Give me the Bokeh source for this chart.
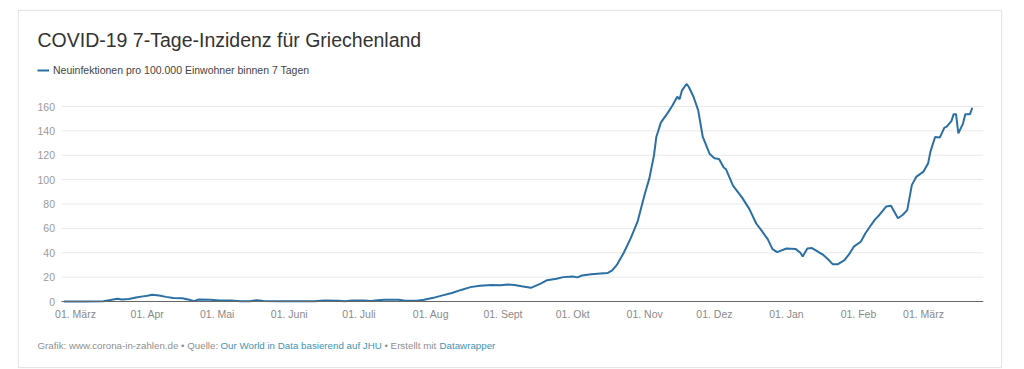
import pandas as pd
from bokeh.plotting import figure
from bokeh.models import (Range1d, FixedTicker, CustomJSTickFormatter, Legend,
                          LegendItem, Label)
from bokeh.embed import file_html
from bokeh.resources import INLINE

# ---------------- data ----------------
dates = [
    "2020-02-25", "2020-03-05", "2020-03-13", "2020-03-16", "2020-03-19", "2020-03-21",
    "2020-03-24", "2020-03-27", "2020-03-30", "2020-04-01", "2020-04-03", "2020-04-06",
    "2020-04-09", "2020-04-12", "2020-04-16", "2020-04-19", "2020-04-21", "2020-04-23",
    "2020-04-28", "2020-05-02", "2020-05-07", "2020-05-11", "2020-05-15", "2020-05-18",
    "2020-05-21", "2020-05-28", "2020-06-05", "2020-06-12", "2020-06-16", "2020-06-22",
    "2020-06-25", "2020-06-28", "2020-07-03", "2020-07-06", "2020-07-09", "2020-07-12",
    "2020-07-18", "2020-07-21", "2020-07-26", "2020-07-29", "2020-08-02", "2020-08-06",
    "2020-08-10", "2020-08-14", "2020-08-18", "2020-08-22", "2020-08-27", "2020-08-31",
    "2020-09-03", "2020-09-06", "2020-09-09", "2020-09-13", "2020-09-17", "2020-09-20",
    "2020-09-24", "2020-09-27", "2020-10-01", "2020-10-03", "2020-10-05", "2020-10-09",
    "2020-10-13", "2020-10-16", "2020-10-18", "2020-10-20", "2020-10-23", "2020-10-26",
    "2020-10-29", "2020-11-01", "2020-11-03", "2020-11-05", "2020-11-06", "2020-11-08",
    "2020-11-11", "2020-11-13", "2020-11-15", "2020-11-16", "2020-11-17", "2020-11-19",
    "2020-11-20", "2020-11-22", "2020-11-24", "2020-11-26", "2020-11-29", "2020-12-01",
    "2020-12-03", "2020-12-05", "2020-12-06", "2020-12-09", "2020-12-13", "2020-12-16",
    "2020-12-19", "2020-12-21", "2020-12-24", "2020-12-26", "2020-12-28", "2021-01-01",
    "2021-01-05", "2021-01-07", "2021-01-08", "2021-01-10", "2021-01-12", "2021-01-14",
    "2021-01-17", "2021-01-19", "2021-01-21", "2021-01-23", "2021-01-26", "2021-01-28",
    "2021-01-30", "2021-02-02", "2021-02-04", "2021-02-06", "2021-02-08", "2021-02-10",
    "2021-02-13", "2021-02-15", "2021-02-18", "2021-02-20", "2021-02-22", "2021-02-24",
    "2021-02-26", "2021-03-01", "2021-03-03", "2021-03-04", "2021-03-06", "2021-03-08",
    "2021-03-10", "2021-03-11", "2021-03-13", "2021-03-14", "2021-03-15", "2021-03-16",
    "2021-03-18", "2021-03-19", "2021-03-21", "2021-03-22",
]
incidence = [
    0.0, 0.0, 0.2, 1.2, 2.3, 1.6,
    2.0, 3.2, 4.2, 4.8, 5.6, 5.0,
    3.8, 2.8, 2.6, 1.5, 0.3, 1.6,
    1.5, 0.9, 0.8, 0.3, 0.3, 1.0,
    0.4, 0.2, 0.2, 0.3, 0.9, 0.7,
    0.2, 0.8, 0.9, 0.5, 1.0, 1.5,
    1.5, 0.6, 0.6, 1.5, 3.0, 5.0,
    7.0, 9.5, 11.8, 12.9, 13.5, 13.4,
    14.0, 13.5, 12.5, 11.2, 14.5, 17.5,
    18.6, 20.0, 20.5, 19.8, 21.3, 22.3,
    23.0, 23.3, 25.5, 30.0, 40.0, 52.0,
    66.0, 88.0, 101.0, 120.0, 135.0, 147.0,
    155.0, 161.0, 168.0, 166.0, 173.0, 178.5,
    176.0, 168.0, 157.0, 135.0, 121.0, 117.5,
    117.0, 110.0, 108.5, 95.0, 85.0, 76.0,
    64.0, 59.0, 51.0, 43.0, 40.5, 43.5,
    43.0, 40.0, 37.0, 43.5, 43.8, 41.6,
    38.0, 34.5, 30.5, 30.5, 34.0, 38.8,
    45.0, 49.0, 56.0, 61.5, 67.0, 71.0,
    78.0, 78.5, 68.3, 71.0, 75.0, 95.7,
    102.5, 106.6, 113.5, 123.0, 135.0, 134.5,
    142.7, 143.5, 148.0, 153.7, 153.7, 138.0,
    146.0, 153.7, 153.7, 159.0,
]
x_tick_dates = ["2020-03-01", "2020-04-01", "2020-05-01", "2020-06-01", "2020-07-01",
                "2020-08-01", "2020-09-01", "2020-10-01", "2020-11-01", "2020-12-01",
                "2021-01-01", "2021-02-01", "2021-03-01"]
month_names = ["Jan", "Feb", "März", "Apr", "Mai", "Juni", "Juli", "Aug", "Sept",
               "Okt", "Nov", "Dez"]
y_ticks = [0, 20, 40, 60, 80, 100, 120, 140, 160]

title_text = "COVID-19 7-Tage-Inzidenz für Griechenland"
legend_text = "Neuinfektionen pro 100.000 Einwohner binnen 7 Tagen"
footer_parts = ["Grafik: www.corona-in-zahlen.de • Quelle:",
                "Our World in Data basierend auf JHU",
                "• Erstellt mit",
                "Datawrapper"]

# ---------------- layout geometry (page pixels) ----------------
FONT = "Liberation Sans"
LINE = "#2b6fa3"
GRAY = "#8f8f8f"
LINK = "#3f93b5"
W, H = 984, 358                 # card from x=18, y=10
FIG_LEFT, FIG_TOP = 18, 10
BORDER_L, BORDER_R, BORDER_T, BORDER_B = 18, 20, 0, 18
FRAME_L = FIG_LEFT + BORDER_L            # 36
FRAME_R = FIG_LEFT + W - BORDER_R        # 982
FRAME_T = FIG_TOP + BORDER_T             # 10
FRAME_B = FIG_TOP + H - BORDER_B         # 350
PLOT_L = 60                              # where the chart area starts
ZERO_Y, TOP_Y = 300, 105                 # pixel rows of 0 and 160
ANCHOR_X = 74                            # pixel column of the first tick date
PX_PER_DAY = (922 - 74) / 365.0
PX_PER_UNIT = (ZERO_Y - TOP_Y) / 160.0

anchor = pd.Timestamp(x_tick_dates[0])
def px_to_date(px):
    return anchor + pd.Timedelta(days=(px - ANCHOR_X) / PX_PER_DAY)

x_start, x_end = px_to_date(FRAME_L), px_to_date(FRAME_R)
plot_start = px_to_date(PLOT_L)
yaxis_at = px_to_date(PLOT_L - 6.5)
y_start = -(FRAME_B - ZERO_Y) / PX_PER_UNIT
y_end = (ZERO_Y - FRAME_T) / PX_PER_UNIT

x = pd.to_datetime(dates)

p = figure(width=W, height=H, x_axis_type="datetime", output_backend="svg",
           toolbar_location=None, x_range=Range1d(x_start, x_end),
           y_range=Range1d(y_start, y_end),
           min_border_left=BORDER_L, min_border_right=BORDER_R,
           min_border_top=BORDER_T, min_border_bottom=BORDER_B)
p.margin = (FIG_TOP, 0, 0, FIG_LEFT)
p.styles = {"border": "1px solid #e6e6e6", "box-shadow": "0 0 2px rgba(0,0,0,0.06)"}
p.title.visible = False
p.outline_line_color = None
p.background_fill_color = "white"
p.border_fill_color = "white"

# horizontal grid lines spanning only the chart area
grid_vals = y_ticks[1:]
p.segment(x0=[plot_start] * len(grid_vals), x1=[x_end] * len(grid_vals),
          y0=grid_vals, y1=grid_vals, line_color="#e9e9e9", line_width=1)
p.xgrid.grid_line_color = None
p.ygrid.grid_line_color = None

r = p.line(x, incidence, line_color=LINE, line_width=2)

# x axis at value 0
p.xaxis.fixed_location = 0
p.xaxis.bounds = (plot_start, x_end)
p.xaxis.ticker = FixedTicker(ticks=[pd.Timestamp(d).value / 1e6 for d in x_tick_dates])
p.xaxis.formatter = CustomJSTickFormatter(
    args=dict(names=month_names),
    code="const d = new Date(tick); return '01. ' + names[d.getUTCMonth()];")
p.xaxis.axis_line_color = "#666666"
p.xaxis.axis_line_width = 1
p.xaxis.major_tick_line_color = None
p.xaxis.minor_tick_line_color = None
p.xaxis.major_tick_out = 0
p.xaxis.major_tick_in = 0
p.xaxis.minor_tick_out = 0
p.xaxis.major_label_standoff = 6
p.xaxis.major_label_text_font = FONT
p.xaxis.major_label_text_font_size = "10.5px"
p.xaxis.major_label_text_color = "#8a8a8a"

# y axis labels just left of the chart area
p.yaxis.fixed_location = yaxis_at.value / 1e6
p.yaxis.ticker = FixedTicker(ticks=y_ticks)
p.yaxis.axis_line_color = None
p.yaxis.major_tick_line_color = None
p.yaxis.minor_tick_line_color = None
p.yaxis.major_tick_out = 0
p.yaxis.major_tick_in = 0
p.yaxis.minor_tick_out = 0
p.yaxis.major_label_standoff = 0
p.yaxis.major_label_text_font = FONT
p.yaxis.major_label_text_font_size = "10.5px"
p.yaxis.major_label_text_color = "#9a9a9a"

# legend
legend = Legend(items=[LegendItem(label=legend_text, renderers=[r])],
                location=(0, FRAME_B - 75), orientation="horizontal",
                padding=0, margin=0, spacing=0,
                glyph_width=12, glyph_height=12, label_height=12,
                label_standoff=4, border_line_color=None,
                background_fill_alpha=0, label_text_font=FONT,
                label_text_font_size="10.5px", label_text_color="#444444")
p.add_layout(legend, "center")

# title
p.add_layout(Label(x=0, y=FRAME_B - 38.5, x_units="screen", y_units="screen",
                   text=title_text, text_font=FONT, text_font_size="19.5px",
                   text_color="#333333", text_baseline="alphabetic"))

# footer
fx = [36, 219, 383, 438]
fc = [GRAY, LINK, GRAY, LINK]
for xx, t, c in zip(fx, footer_parts, fc):
    p.add_layout(Label(x=xx - FRAME_L, y=FRAME_B - 344, x_units="screen",
                       y_units="screen", text=t, text_font=FONT,
                       text_font_size="9.75px", text_color=c, text_baseline="middle"))

open("out.html", "w").write(file_html(p, INLINE))
